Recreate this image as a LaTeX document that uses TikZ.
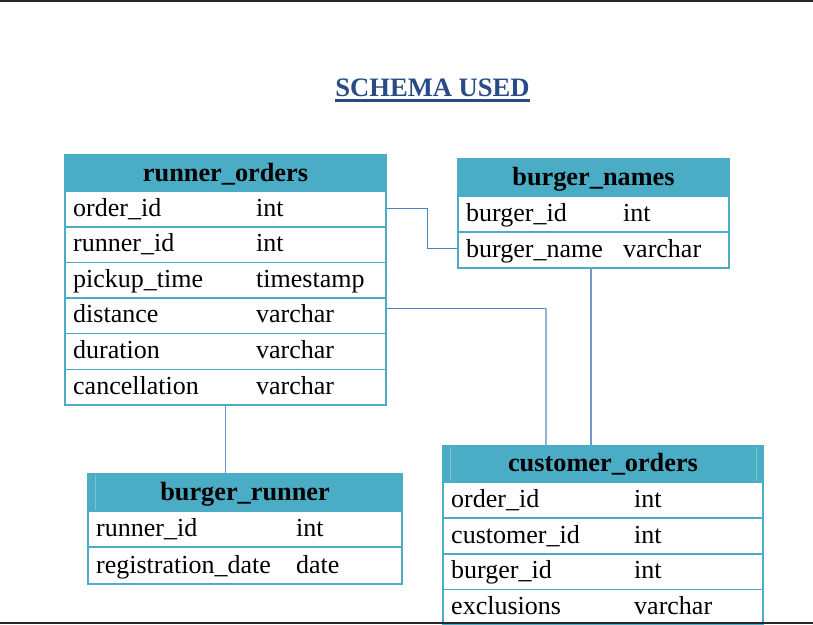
\documentclass[tikz,border=0pt]{standalone}
\usepackage{fontspec}
\setmainfont{Liberation Serif}
\definecolor{hdr}{HTML}{4BACC6}
\definecolor{bord}{HTML}{4BACC6}
\definecolor{hdrline}{HTML}{7CC3D6}
\definecolor{conn}{HTML}{4F81BD}
\definecolor{connl}{HTML}{95B3D7}
\definecolor{connm}{HTML}{7098CC}
\definecolor{ttl}{HTML}{284B87}
\definecolor{band}{HTML}{262626}
% name, x1, x2, ytop, ybot, text1, text2, xcol2
\newcommand\trow[8]{%
  \node[rowbox, minimum width={(#3-#2)*1pt}, minimum height={(#5-#4)*1pt}] (#1) at ({(#2+#3)/2},{(#4+#5)/2}) {};
  \node[celltxt] (#1-a) at ({#2+8},{#5-11}) {#6};
  \node[celltxt] (#1-b) at (#8,{#5-11}) {#7};
}
% name, x1, x2, ytop, ybot, title
\newcommand\thdr[6]{%
  \node[hdrbox, minimum width={(#3-#2)*1pt}, minimum height={(#5-#4)*1pt}] (#1) at ({(#2+#3)/2},{(#4+#5)/2}) {};
  \node[hdrtxt] (#1-t) at ({(#2+#3)/2},{#5-10.5}) {#6};
}
\begin{document}
\begin{tikzpicture}[x=1pt,y=-1pt,
  hdrbox/.style={rectangle,draw=bord,fill=hdr,line width=1.5pt,inner sep=0pt,outer sep=0pt},
  rowbox/.style={rectangle,draw=bord,fill=white,line width=1.5pt,inner sep=0pt,outer sep=0pt},
  celltxt/.style={anchor=base west,inner sep=0pt,font=\fontsize{26}{30}\selectfont},
  hdrtxt/.style={anchor=base,inner sep=0pt,font=\bfseries\fontsize{26.3}{30}\selectfont},
  link/.style={draw=conn,line width=1pt},
  hline/.style={draw=hdrline,line width=1pt},
]
\useasboundingbox (0,0) rectangle (813,624);
\fill[white] (0,0) rectangle (813,624);

% title
\node[anchor=base,inner sep=0pt,text=ttl,font=\bfseries\fontsize{26.6}{30}\selectfont] (title) at (432.5,96.7) {SCHEMA USED};
\draw[ttl,line width=2.4pt] ([yshift=-3.6pt]title.base west) -- ([yshift=-3.6pt]title.base east);

% connector anchors
\coordinate (c1a) at (386,208);
\coordinate (c1b) at (427,208);
\coordinate (c1c) at (427,248);
\coordinate (c1d) at (458,248);
\coordinate (c2a) at (386,308);
\coordinate (c2b) at (546,308);
\coordinate (c2c) at (546,446);
\coordinate (c3a) at (591,268);
\coordinate (c3b) at (591,446);
\coordinate (c4a) at (225.5,405);
\coordinate (c4b) at (225.5,474);

\draw[link] (c1a) -- (c1b) -- (c1c) -- (c1d);
\draw[link] (c2a) -- (c2b);
\draw[draw=connl,line width=1.6pt] (c2b) -- (c2c);
\draw[draw=connm,line width=1.2pt] (c3a) -- (c3b);
\draw[draw=connm,line width=1.2pt] (c4a) -- (c4b);

% runner_orders
\thdr{ro}{65}{386}{155}{191.5}{runner\_orders}
\trow{ro1}{65}{386}{191.5}{227}{order\_id}{int}{256}
\trow{ro2}{65}{386}{227}{262.5}{runner\_id}{int}{256}
\trow{ro3}{65}{386}{262.5}{298}{pickup\_time}{timestamp}{256}
\trow{ro4}{65}{386}{298}{333.5}{distance}{varchar}{256}
\trow{ro5}{65}{386}{333.5}{369.5}{duration}{varchar}{256}
\trow{ro6}{65}{386}{369.5}{405}{cancellation}{varchar}{256}

% burger_names
\thdr{bn}{458}{729}{159}{196}{burger\_names}
\trow{bn1}{458}{729}{196}{232}{burger\_id}{int}{623}
\trow{bn2}{458}{729}{232}{268}{burger\_name}{varchar}{623}

% customer_orders
\thdr{co}{443}{763}{446}{482}{customer\_orders}
\draw[hline] (450.5,447) -- (450.5,481);
\draw[hline] (756.5,447) -- (756.5,481);
\trow{co1}{443}{763}{482}{518}{order\_id}{int}{634}
\trow{co2}{443}{763}{518}{554}{customer\_id}{int}{634}
\trow{co3}{443}{763}{554}{589.5}{burger\_id}{int}{634}
\trow{co4}{443}{763}{589.5}{625}{exclusions}{varchar}{634}

% burger_runner
\thdr{br}{88}{402}{474}{511}{burger\_runner}
\draw[hline] (95,475) -- (95,510);
\trow{br1}{88}{402}{511}{547}{runner\_id}{int}{296}
\trow{br2}{88}{402}{547}{584}{registration\_date}{date}{296}

% page bands
\fill[band] (0,0) rectangle (813,2);
\fill[band] (0,621.5) rectangle (813,624);
\end{tikzpicture}
\end{document}
